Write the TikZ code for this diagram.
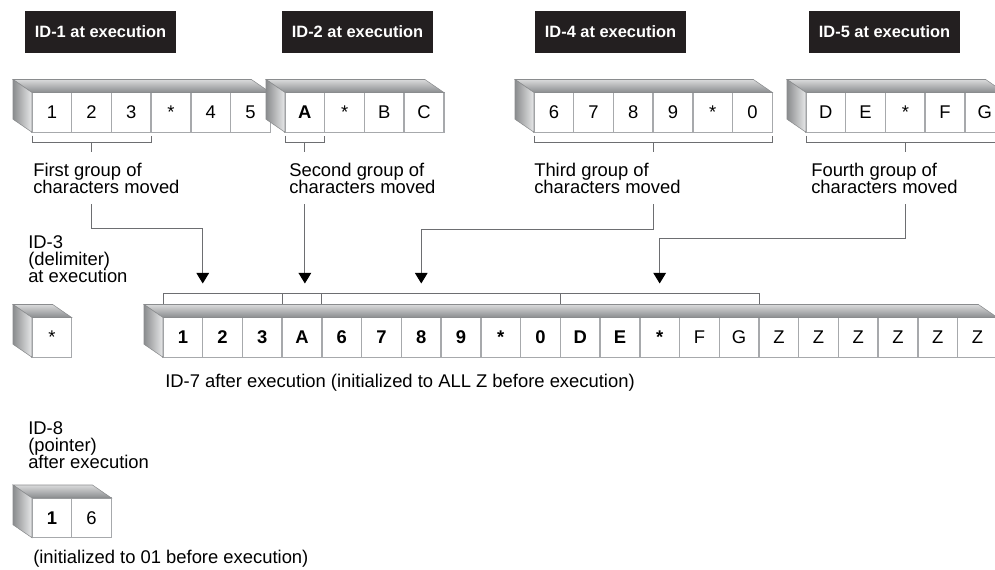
\documentclass[tikz,border=0pt]{standalone}
\usepackage{fontspec}
\setmainfont{Liberation Sans}
\usepackage{xcolor}
\usepackage{tikz}
\usetikzlibrary{arrows.meta,positioning,calc}
\definecolor{tagblack}{HTML}{231F20}
\definecolor{cellgray}{HTML}{A7A9AC}
\definecolor{linegray}{HTML}{6D6E71}
\definecolor{facelight}{HTML}{D9DADB}
\definecolor{facedark}{HTML}{8A8C8E}
\tikzset{
  tag/.style={
    rectangle, fill=tagblack, text=white,
    font=\fontsize{12.3}{14}\selectfont\bfseries,
    minimum width=113pt, minimum height=31.5pt,
    inner sep=0pt
  },
  cell/.style={
    rectangle, draw=cellgray, fill=white, line width=1.1pt,
    minimum width=29.8pt, minimum height=29.8pt,
    font=\fontsize{13.8}{16}\selectfont,
    inner sep=0pt, outer sep=0pt
  },
  boldcell/.style={cell, font=\fontsize{13.8}{16}\selectfont\bfseries},
  topface/.style={top color=facelight, bottom color=facedark,
    draw=facedark, line width=0.4pt},
  sideface/.style={left color=facedark, right color=facelight!60!white,
    draw=facedark, line width=0.4pt},
  bracketline/.style={draw=linegray, line width=0.75pt},
  movearrow/.style={
    draw=linegray, line width=0.8pt,
    -{Triangle[width=9.5pt, length=8pt, color=black]}
  },
  note/.style={font=\fontsize{13.8}{13}\selectfont, align=left, inner sep=0pt},
  smallnote/.style={font=\fontsize{13.8}{13}\selectfont, align=left, inner sep=0pt},
}

\begin{document}
\begin{tikzpicture}[x=0.75pt, y=-0.75pt, node distance=0pt]
  \useasboundingbox (0,0) rectangle (995,569);
  % tags on top
  \node[tag] at (100.5,32) (tag1) {ID-1 at execution};
  \node[tag] at (357.5,32) (tag2) {ID-2 at execution};
  \node[tag] at (610.5,32) (tag4) {ID-4 at execution};
  \node[tag] at (884.5,32) (tag5) {ID-5 at execution};

  % ID-1
  \node[cell, anchor=north west] at (32,92.5) (r1a) {1};
  \node[cell, right=of r1a] (r1b) {2};
  \node[cell, right=of r1b] (r1c) {3};
  \node[cell, right=of r1c] (r1d) {*};
  \node[cell, right=of r1d] (r1e) {4};
  \node[cell, right=of r1e] (r1f) {5};
  \draw[topface] (r1a.north west) -- (r1f.north east) -- ([shift={(-19,-13)}]r1f.north east) -- ([shift={(-19,-13)}]r1a.north west) -- cycle;
  \draw[sideface] (r1a.north west) -- (r1a.south west) -- ([shift={(-19,-13)}]r1a.south west) -- ([shift={(-19,-13)}]r1a.north west) -- cycle;

  % ID-2
  \node[boldcell, anchor=north west] at (285,92.5) (r2a) {A};
  \node[cell, right=of r2a] (r2b) {*};
  \node[cell, right=of r2b] (r2c) {B};
  \node[cell, right=of r2c] (r2d) {C};
  \draw[topface] (r2a.north west) -- (r2d.north east) -- ([shift={(-19,-13)}]r2d.north east) -- ([shift={(-19,-13)}]r2a.north west) -- cycle;
  \draw[sideface] (r2a.north west) -- (r2a.south west) -- ([shift={(-19,-13)}]r2a.south west) -- ([shift={(-19,-13)}]r2a.north west) -- cycle;

  % ID-4
  \node[cell, anchor=north west] at (534,92.5) (r4a) {6};
  \node[cell, right=of r4a] (r4b) {7};
  \node[cell, right=of r4b] (r4c) {8};
  \node[cell, right=of r4c] (r4d) {9};
  \node[cell, right=of r4d] (r4e) {*};
  \node[cell, right=of r4e] (r4f) {0};
  \draw[topface] (r4a.north west) -- (r4f.north east) -- ([shift={(-19,-13)}]r4f.north east) -- ([shift={(-19,-13)}]r4a.north west) -- cycle;
  \draw[sideface] (r4a.north west) -- (r4a.south west) -- ([shift={(-19,-13)}]r4a.south west) -- ([shift={(-19,-13)}]r4a.north west) -- cycle;

  % ID-5
  \node[cell, anchor=north west] at (806,92.5) (r5a) {D};
  \node[cell, right=of r5a] (r5b) {E};
  \node[cell, right=of r5b] (r5c) {*};
  \node[cell, right=of r5c] (r5d) {F};
  \node[cell, right=of r5d] (r5e) {G};
  \draw[topface] (r5a.north west) -- (r5e.north east) -- ([shift={(-19,-13)}]r5e.north east) -- ([shift={(-19,-13)}]r5a.north west) -- cycle;
  \draw[sideface] (r5a.north west) -- (r5a.south west) -- ([shift={(-19,-13)}]r5a.south west) -- ([shift={(-19,-13)}]r5a.north west) -- cycle;

  % brackets under the sending fields
  \draw[bracketline] ([yshift=-2.5pt]r1a.south west) -- ([yshift=-7.5pt]r1a.south west) -- ([yshift=-7.5pt]r1c.south east) -- ([yshift=-2.5pt]r1c.south east);
  \draw[bracketline] ([yshift=-7.5pt]r1b.south) -- ([yshift=-15pt]r1b.south);
  \draw[bracketline] ([yshift=-2.5pt]r2a.south west) -- ([yshift=-7.5pt]r2a.south west) -- ([yshift=-7.5pt]r2a.south east) -- ([yshift=-2.5pt]r2a.south east);
  \draw[bracketline] ([yshift=-7.5pt]r2a.south) -- ([yshift=-15pt]r2a.south);
  \draw[bracketline] ([yshift=-2.5pt]r4a.south west) -- ([yshift=-7.5pt]r4a.south west) -- ([yshift=-7.5pt]r4f.south east) -- ([yshift=-2.5pt]r4f.south east);
  \draw[bracketline] ([yshift=-7.5pt]r4c.south east) -- ([yshift=-15pt]r4c.south east);
  \draw[bracketline] ([yshift=-2.5pt]r5a.south west) -- ([yshift=-7.5pt]r5a.south west) -- ([yshift=-7.5pt]r5e.south east) -- ([yshift=-2.5pt]r5e.south east);
  \draw[bracketline] ([yshift=-7.5pt]r5c.south) -- ([yshift=-15pt]r5c.south);

  \node[note, anchor=north west] at ([xshift=0.75pt, yshift=-23pt]r1a.south west) (g1txt) {First group of\\characters moved};
  \node[note, anchor=north west] at ([xshift=3pt, yshift=-23pt]r2a.south west) (g2txt) {Second group of\\characters moved};
  \node[note, anchor=north west] at ([xshift=0pt, yshift=-23pt]r4a.south west) (g3txt) {Third group of\\characters moved};
  \node[note, anchor=north west] at ([xshift=3.75pt, yshift=-23pt]r5a.south west) (g4txt) {Fourth group of\\characters moved};

  % ID-3
  \node[smallnote, anchor=north west] at (28,235) (id3txt) {ID-3\\(delimiter)\\at execution};
  \node[cell, anchor=north west] at (32,317.5) (r3a) {*};
  \draw[topface] (r3a.north west) -- (r3a.north east) -- ([shift={(-19,-13)}]r3a.north east) -- ([shift={(-19,-13)}]r3a.north west) -- cycle;
  \draw[sideface] (r3a.north west) -- (r3a.south west) -- ([shift={(-19,-13)}]r3a.south west) -- ([shift={(-19,-13)}]r3a.north west) -- cycle;

  % ID-7
  \node[boldcell, anchor=north west] at (163,317.5) (r7a) {1};
  \node[boldcell, right=of r7a] (r7b) {2};
  \node[boldcell, right=of r7b] (r7c) {3};
  \node[boldcell, right=of r7c] (r7d) {A};
  \node[boldcell, right=of r7d] (r7e) {6};
  \node[boldcell, right=of r7e] (r7f) {7};
  \node[boldcell, right=of r7f] (r7g) {8};
  \node[boldcell, right=of r7g] (r7h) {9};
  \node[boldcell, right=of r7h] (r7i) {*};
  \node[boldcell, right=of r7i] (r7j) {0};
  \node[boldcell, right=of r7j] (r7k) {D};
  \node[boldcell, right=of r7k] (r7l) {E};
  \node[boldcell, right=of r7l] (r7m) {*};
  \node[cell, right=of r7m] (r7n) {F};
  \node[cell, right=of r7n] (r7o) {G};
  \node[cell, right=of r7o] (r7p) {Z};
  \node[cell, right=of r7p] (r7q) {Z};
  \node[cell, right=of r7q] (r7r) {Z};
  \node[cell, right=of r7r] (r7s) {Z};
  \node[cell, right=of r7s] (r7t) {Z};
  \node[cell, right=of r7t] (r7u) {Z};
  \draw[topface] (r7a.north west) -- (r7u.north east) -- ([shift={(-19,-13)}]r7u.north east) -- ([shift={(-19,-13)}]r7a.north west) -- cycle;
  \draw[sideface] (r7a.north west) -- (r7a.south west) -- ([shift={(-19,-13)}]r7a.south west) -- ([shift={(-19,-13)}]r7a.north west) -- cycle;
  \node[note, anchor=base west] at (165,387) (id7txt) {ID-7 after execution (initialized to ALL Z before execution)};

  % bracket over the receiving field
  \draw[bracketline] ([yshift=10.5pt]r7a.north west) -- ([yshift=18pt]r7a.north west) -- ([yshift=18pt]r7o.north east) -- ([yshift=10.5pt]r7o.north east);
  \draw[bracketline] ([yshift=18pt]r7c.north east) -- ([yshift=10.5pt]r7c.north east);
  \draw[bracketline] ([yshift=18pt]r7d.north east) -- ([yshift=10.5pt]r7d.north east);
  \draw[bracketline] ([yshift=18pt]r7j.north east) -- ([yshift=10.5pt]r7j.north east);

  % arrows
  \coordinate (t1) at ([yshift=25.5pt]r7a.north east);
  \coordinate (t2) at (r2a |- t1);
  \coordinate (t3) at (r7g |- t1);
  \coordinate (t4) at (r7m |- t1);
  \draw[movearrow, shorten <=7.5pt] (g1txt.south -| r1b) -- ++(0,34) -| (t1);
  \draw[movearrow, shorten <=7.5pt] (g2txt.south -| r2a) -- (t2);
  \draw[movearrow, shorten <=7.5pt] (g3txt.south -| r4c.south east) -- ++(0,35) -| (t3);
  \draw[movearrow, shorten <=7.5pt] (g4txt.south -| r5c) -- ++(0,44) -| (t4);

  % ID-8
  \node[smallnote, anchor=north west] at (28,421) (id8txt) {ID-8\\(pointer)\\after execution};
  \node[boldcell, anchor=north west] at (32,498) (r8a) {1};
  \node[cell, right=of r8a] (r8b) {6};
  \draw[topface] (r8a.north west) -- (r8b.north east) -- ([shift={(-19,-13)}]r8b.north east) -- ([shift={(-19,-13)}]r8a.north west) -- cycle;
  \draw[sideface] (r8a.north west) -- (r8a.south west) -- ([shift={(-19,-13)}]r8a.south west) -- ([shift={(-19,-13)}]r8a.north west) -- cycle;
  \node[note, anchor=base west] at (33,563) (id8init) {(initialized to 01 before execution)};
\end{tikzpicture}
\end{document}
